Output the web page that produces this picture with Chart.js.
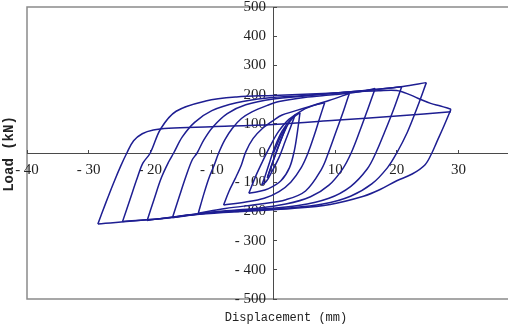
<!DOCTYPE html>
<html>
<head>
<meta charset="utf-8">
<script src="https://cdn.jsdelivr.net/npm/chart.js@4/dist/chart.umd.min.js"></script>
<style>
  html, body { margin: 0; padding: 0; background: #fff; overflow: hidden; }
  #wrap { width: 530px; height: 325px; }
</style>
</head>
<body>
<div id="wrap"><canvas id="c" width="530" height="325"></canvas></div>
<script>
// Hysteresis branches of the cyclic test, each running from one load reversal to the next.
// Points are [displacement (mm), load (kN)].
const toPos1 = [[0,0],[0.9,45],[1.6,75],[2.1,92]];
const toNeg1 = [[2.1,92],[1.4,55],[0.6,10],[-0.2,-35],[-0.7,-65],[-1.0,-85]];
const toPos2 = [[-1.0,-85],[-0.4,-50],[0.3,-5],[1.3,50],[2.4,100],[3.5,130]];
const toNeg2 = [[3.5,130],[2.8,90],[1.9,40],[0.9,-15],[-0.3,-65],[-1.1,-95],[-1.9,-110]];
const toPos3 = [[-1.9,-110],[-1.3,-75],[-0.6,-30],[0.2,20],[1.4,75],[2.8,115],[4.3,138]];
const toNeg3 = [[4.3,138],[3.9,75],[3.4,10],[2.6,-50],[1.2,-95],[-0.8,-122],[-2.6,-133],[-4.0,-138]];
const toPos4 = [[-4.0,-138],[-2.9,-80],[-1.8,-30],[-0.5,25],[0.8,73],[2.5,115],[4.8,148],[6.7,164],[8.3,172]];
const toNeg4 = [[8.3,172],[7.5,120],[6.6,60],[5.6,0],[4.5,-50],[2.8,-100],[0.9,-132],[-1.5,-155],[-4.5,-168],[-8.1,-178]];
const toPos5 = [[-8.1,-178],[-7.2,-130],[-6.2,-87],[-5.2,-40],[-4.5,4],[-3.3,50],[-1.8,84],[0,112],[1.4,130],[5.2,155],[9,180],[12.3,204]];
const toNeg5 = [[12.3,204],[11.3,140],[10.1,70],[8.9,0],[7.8,-55],[5.2,-130],[2,-160],[-1.8,-174],[-7.8,-190],[-12.2,-206]];
const toPos6 = [[-12.2,-206],[-11.3,-140],[-10.5,-87],[-9.6,-40],[-8.9,0],[-7.9,45],[-6.7,84],[-5.2,118],[-3.5,141],[-1,163],[0.9,176],[5,190],[10,200],[14,210],[16.5,221]];
const toNeg6 = [[16.5,221],[15.3,150],[14.0,75],[12.6,0],[11.2,-55],[9,-110],[6,-150],[2,-175],[-3,-190],[-9,-200],[-16.4,-222]];
const toPos7 = [[-16.4,-222],[-15.3,-150],[-14.2,-80],[-13.2,-24],[-12.4,0],[-11.3,45],[-9.8,90],[-7.5,135],[-4.5,165],[0,185],[5,195],[10,205],[15,214],[20.8,227]];
const toNeg7 = [[20.8,227],[19.5,150],[18.0,70],[16.6,0],[15.2,-55],[12.5,-115],[9,-155],[4,-180],[-2,-192],[-10,-203],[-16,-218],[-20.5,-231]];
const toPos8 = [[-20.5,-231],[-19.4,-160],[-18.2,-85],[-17.0,-30],[-16.2,0],[-14.8,55],[-12.8,105],[-10,145],[-6,172],[-1,188],[5,197],[11,207],[17,218],[21,228],[24.8,241]];
const toNeg8 = [[24.8,241],[23.4,160],[21.7,70],[20.0,0],[18.5,-50],[16,-105],[12.5,-148],[8,-175],[2,-189],[-5,-198],[-12,-208],[-18,-224],[-24.5,-235]];
const toPos9 = [[-24.5,-235],[-23.3,-160],[-22.1,-85],[-21.2,-35],[-20.0,0],[-18.3,83],[-15.8,143],[-11,178],[-6,192],[0,197],[6,202],[12,208],[17,213],[20,214],[22.2,199],[23.8,184],[25.5,170],[27.1,161],[28.8,150]];
const toNeg9 = [[28.8,150],[27.6,90],[26.5,38],[25.7,0],[24.6,-40],[22.5,-72],[20,-95],[17.3,-125],[14.6,-148],[9.2,-176],[3,-190],[-4,-199],[-12,-210],[-20,-228],[-28.5,-243]];
const finalReload = [[-28.5,-243],[-27.2,-170],[-25.9,-100],[-24.8,-45],[-23.8,0],[-22.7,42],[-21.3,66],[-19.5,79],[-17,85],[-10,90],[0,98],[10,112],[20,127],[28.8,141]];

const branches = [toPos1, toNeg1, toPos2, toNeg2, toPos3, toNeg3, toPos4, toNeg4, toPos5, toNeg5,
  toPos6, toNeg6, toPos7, toNeg7, toPos8, toNeg8, toPos9, toNeg9, finalReload];

// Axis ranges and tick steps
const dispRange = [-40, 40];
const loadRange = [-500, 500];
const dispStep = 10;
const loadStep = 100;

const xTitle = 'Displacement (mm)';
const yTitle = 'Load (kN)';

const lineColor = '#1e1e92';
const axisColor = '#4a4a4a';
const textColor = '#222222';

function signedLabel(v) {
  return v < 0 ? '- ' + Math.abs(v) : String(v);
}

// Outer frame around the plot area
const framePlugin = {
  id: 'frame',
  beforeDraw(chart) {
    const { ctx, chartArea: a } = chart;
    ctx.save();
    ctx.strokeStyle = '#8a8a8a';
    ctx.lineWidth = 1.5;
    ctx.strokeRect(a.left, a.top, a.right - a.left, a.bottom - a.top);
    ctx.restore();
  }
};

// Axis titles placed at the outer edges of the figure
const titlesPlugin = {
  id: 'axisTitles',
  afterDraw(chart) {
    const { ctx } = chart;
    ctx.save();
    ctx.fillStyle = textColor;
    ctx.textAlign = 'center';
    ctx.textBaseline = 'middle';
    ctx.font = '12px "Liberation Mono", monospace';
    ctx.fillText(xTitle, 286, 318);
    ctx.translate(9, 154);
    ctx.rotate(-Math.PI / 2);
    ctx.font = 'bold 14px "Liberation Mono", monospace';
    ctx.fillText(yTitle, 0, 0);
    ctx.restore();
  }
};

new Chart(document.getElementById('c'), {
  type: 'scatter',
  data: {
    datasets: branches.map(b => ({
      data: b.map(([d, p]) => ({ x: d, y: p })),
      showLine: true,
      borderColor: lineColor,
      borderWidth: 1.5,
      pointRadius: 0,
      tension: 0.35,
      fill: false
    }))
  },
  options: {
    responsive: false,
    animation: false,
    layout: { padding: { left: 27, top: 7, right: 10, bottom: 26 } },
    plugins: { legend: { display: false }, tooltip: { enabled: false } },
    scales: {
      x: {
        type: 'linear',
        min: dispRange[0], max: dispRange[1],
        position: { y: 0 },
        grid: { display: true, drawOnChartArea: false, drawTicks: true, tickLength: -4, tickColor: axisColor },
        border: { display: true, color: axisColor, width: 1 },
        ticks: {
          stepSize: dispStep, padding: 0, color: textColor,
          font: { family: '"Liberation Serif", serif', size: 15, lineHeight: '42px' },
          callback: v => signedLabel(v)
        }
      },
      y: {
        type: 'linear',
        min: loadRange[0], max: loadRange[1],
        position: { x: 0 },
        grid: { display: true, drawOnChartArea: false, drawTicks: true, tickLength: -4, tickColor: axisColor },
        border: { display: true, color: axisColor, width: 1 },
        ticks: {
          stepSize: loadStep, padding: 0, color: textColor,
          font: { family: '"Liberation Serif", serif', size: 15, lineHeight: 0.9 },
          callback: v => signedLabel(v) + '  '
        }
      }
    }
  },
  plugins: [framePlugin, titlesPlugin]
});
</script>
</body>
</html>
